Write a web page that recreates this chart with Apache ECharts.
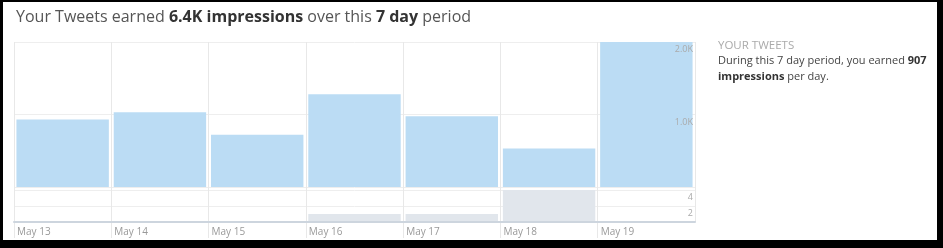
<!DOCTYPE html>
<html>
<head>
<meta charset="utf-8">
<script src="https://cdn.jsdelivr.net/npm/echarts@6/dist/echarts.min.js"></script>
<style>
html,body{margin:0;padding:0;background:#000;}
#c{width:943px;height:248px;}
</style>
</head>
<body>
<div id="c"></div>
<script>
const days = ['May 13','May 14','May 15','May 16','May 17','May 18','May 19'];
const impressions = [930, 1030, 720, 1280, 975, 530, 2000];
const tweets = [0, 0, 0, 1, 1, 4, 0];
const impressionTicks = [0, 1000, 2000];
const tweetTicks = [0, 2, 4];

const FONT = '"Open Sans", "DejaVu Sans", sans-serif';
const chart = echarts.init(document.getElementById('c'), null, {renderer: 'canvas'});
const L = 14, W = 681;

function yAxes(grid, ticks, fmt) {
  const base = {type: 'value', gridIndex: grid, position: 'right', min: ticks[0], max: ticks[2], interval: ticks[1] - ticks[0],
    axisLine: {show: false}, axisTick: {show: false}};
  return [
    Object.assign({}, base, {splitLine: {show: true, lineStyle: {color: '#eeeeee'}}, axisLabel: {show: false}, z: 0}),
    Object.assign({}, base, {splitLine: {show: false},
      axisLabel: {inside: true, margin: 2, color: '#aaa', fontSize: 9, fontFamily: FONT, verticalAlign: 'top', padding: [3, 0, 0, 0], showMinLabel: false, formatter: fmt},
      z: 10})
  ];
}

chart.setOption({
  backgroundColor: '#000',
  animation: false,
  graphic: [
    {type: 'rect', z: -10, silent: true, shape: {x: 3, y: 2, width: 934, height: 238}, style: {fill: '#fff'}},
    {type: 'text', left: 718, top: 40, style: {text: 'YOUR TWEETS', fill: '#aaa', font: '11.5px ' + FONT}},
    {type: 'text', left: 718, top: 55, style: {
      text: '{r|During this 7 day period, you earned }{b|907}\n{b|impressions}{r| per day.}',
      rich: {
        r: {fill: '#444', fontFamily: FONT, fontSize: 11, lineHeight: 16},
        b: {fill: '#333', fontFamily: FONT, fontSize: 11, fontWeight: 'bold', lineHeight: 16}
      }
    }}
  ],
  title: {
    left: 11, top: 4,
    text: '{r|Your Tweets earned }{b|6.4K impressions}{r| over this }{b|7 day}{r| period}',
    textStyle: {
      fontWeight: 'normal',
      rich: {
        r: {color: '#555', fontFamily: FONT, fontSize: 16, fontWeight: 'normal'},
        b: {color: '#333', fontFamily: FONT, fontSize: 16, fontWeight: 'bold'}
      }
    }
  },
  grid: [
    {left: L, top: 42, width: W, height: 145},
    {left: L, top: 190, width: W, height: 32},
    {left: L, top: 42, width: W, height: 180}
  ],
  xAxis: [
    {type: 'category', gridIndex: 0, data: days, axisLine: {show: false}, axisTick: {show: false}, axisLabel: {show: false}, splitLine: {show: false}},
    {type: 'category', gridIndex: 1, data: days, axisLine: {show: true, lineStyle: {color: '#cdd5de', width: 2}}, axisTick: {show: false}, axisLabel: {show: false}, splitLine: {show: false}, z: 5},
    {type: 'value', gridIndex: 2, min: 0, max: days.length, interval: 1,
      axisLine: {show: false},
      axisTick: {show: true, length: 16, lineStyle: {color: '#e8e8e8'}},
      splitLine: {show: true, lineStyle: {color: '#e8e8e8'}},
      axisLabel: {show: true, align: 'left', margin: 5, color: '#999', fontSize: 10, fontFamily: FONT, padding: [0, 0, 0, 3],
        showMaxLabel: false,
        formatter: v => days[v] !== undefined ? days[v] : ''},
      z: 0
    }
  ],
  yAxis: [
    ...yAxes(0, impressionTicks, v => (v / 1000).toFixed(1) + 'K'),
    ...yAxes(1, tweetTicks, v => String(v)),
    {type: 'value', gridIndex: 2, min: 0, max: 1, show: false}
  ],
  series: [
    {type: 'bar', xAxisIndex: 0, yAxisIndex: 0, data: impressions, barCategoryGap: '5%', itemStyle: {color: '#bbdcf4'}, z: 3, silent: true},
    {type: 'bar', xAxisIndex: 1, yAxisIndex: 2, data: tweets, barCategoryGap: '5%', itemStyle: {color: '#e1e6ec'}, z: 3, silent: true}
  ]
});
</script>
</body>
</html>
